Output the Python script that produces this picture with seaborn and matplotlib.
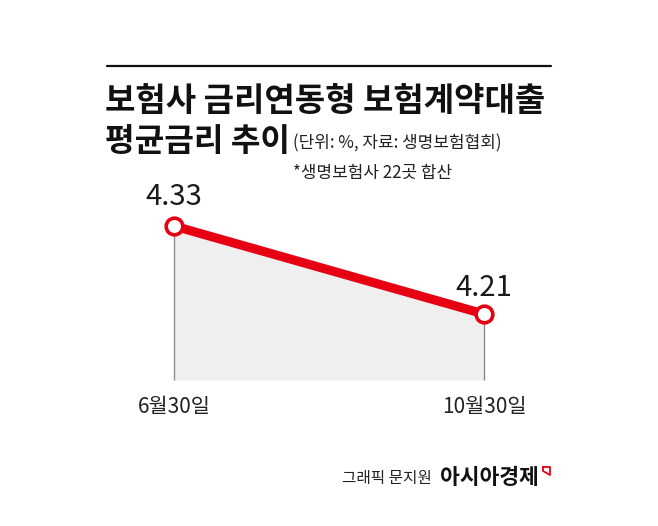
import matplotlib
matplotlib.use("Agg")
import matplotlib.pyplot as plt
import matplotlib.transforms as mtransforms
import seaborn as sns
import numpy as np
import pandas as pd

# ---- 데이터 ----
dates = ["6월30일", "10월30일"]
rates = [4.33, 4.21]
title_lines = ["보험사 금리연동형 보험계약대출", "평균금리 추이"]
subtitle = "(단위: %, 자료: 생명보험협회)"
footnote = "*생명보험사 22곳 합산"
credit = "그래픽 문지원"
brand = "아시아경제"

RED = "#e60012"
FILL = "#efefef"
W, H = 658, 526

sns.set_theme(style="white")
plt.rcParams["font.family"] = ["Noto Sans CJK KR", "DejaVu Sans"]

fig = plt.figure(figsize=(W / 100, H / 100), dpi=100)
ax = fig.add_axes([0, 0, 1, 1])
ax.set_facecolor("white")

# 픽셀 -> 데이터 스케일: x=0 at 174px, x=1 at 484px; 4.33 at 226px, 4.21 at 314px
px_per_x = 484 - 174
px_per_y = (314 - 226) / (rates[0] - rates[1])
ax.set_xlim(-174 / px_per_x, (W - 174) / px_per_x)
ax.set_ylim(rates[0] - (H - 226) / px_per_y, rates[0] + 226 / px_per_y)
base = rates[1] - (380 - 314) / px_per_y
ax.axis("off")

df = pd.DataFrame({"x": np.arange(len(dates)), "rate": rates, "date": dates})

ax.fill_between(df["x"], df["rate"], base, color=FILL, zorder=1, lw=0)
ax.vlines(df["x"], base, df["rate"], color="#8c8c8c", lw=1.0, zorder=2)
sns.lineplot(data=df, x="x", y="rate", ax=ax, color=RED, lw=6.5,
             marker="o", markersize=12, markerfacecolor="white",
             markeredgecolor=RED, markeredgewidth=2.6, zorder=3)

for xi, v, off in zip(df["x"], df["rate"], [29, 26]):
    ax.annotate(f"{v:.2f}", (xi, v), xytext=(0, off), textcoords="offset pixels",
                ha="center", va="center", fontsize=21, color="#1a1a1a")

trans = mtransforms.blended_transform_factory(ax.transData, ax.transAxes)
for xi, d in zip(df["x"], df["date"]):
    ax.text(xi, 1 - 407 / H, d, transform=trans, ha="center", va="center",
            fontsize=15, color="#222222")

# ---- 제목 영역 ----
def fy(py):
    return 1 - py / H

fig.add_artist(plt.Line2D([107 / W, 551 / W], [fy(66), fy(66)], color="#111111", lw=1.6))
fig.text(105 / W, fy(101), title_lines[0], fontsize=23.8, fontweight="bold",
         ha="left", va="center", color="#111111")
fig.text(105 / W, fy(141), title_lines[1], fontsize=23.2, fontweight="bold",
         ha="left", va="center", color="#111111")
fig.text(293 / W, fy(143), subtitle, fontsize=12.2, ha="left", va="center", color="#222222")
fig.text(293 / W, fy(173), footnote, fontsize=12.2, ha="left", va="center", color="#222222")

# ---- 크레딧 ----
fig.text(342 / W, fy(478), credit, fontsize=11.3, ha="left", va="center", color="#222222")
fig.text(440 / W, fy(478), brand, fontsize=15.5, fontweight="bold", ha="left", va="center",
         color="#111111")
fig.add_artist(plt.Line2D([543 / W, 550 / W, 550 / W, 543 / W, 543 / W],
                          [fy(467), fy(467), fy(475), fy(471), fy(467)],
                          color=RED, lw=1.3))

fig.savefig("out.png", dpi=100, facecolor="white")
